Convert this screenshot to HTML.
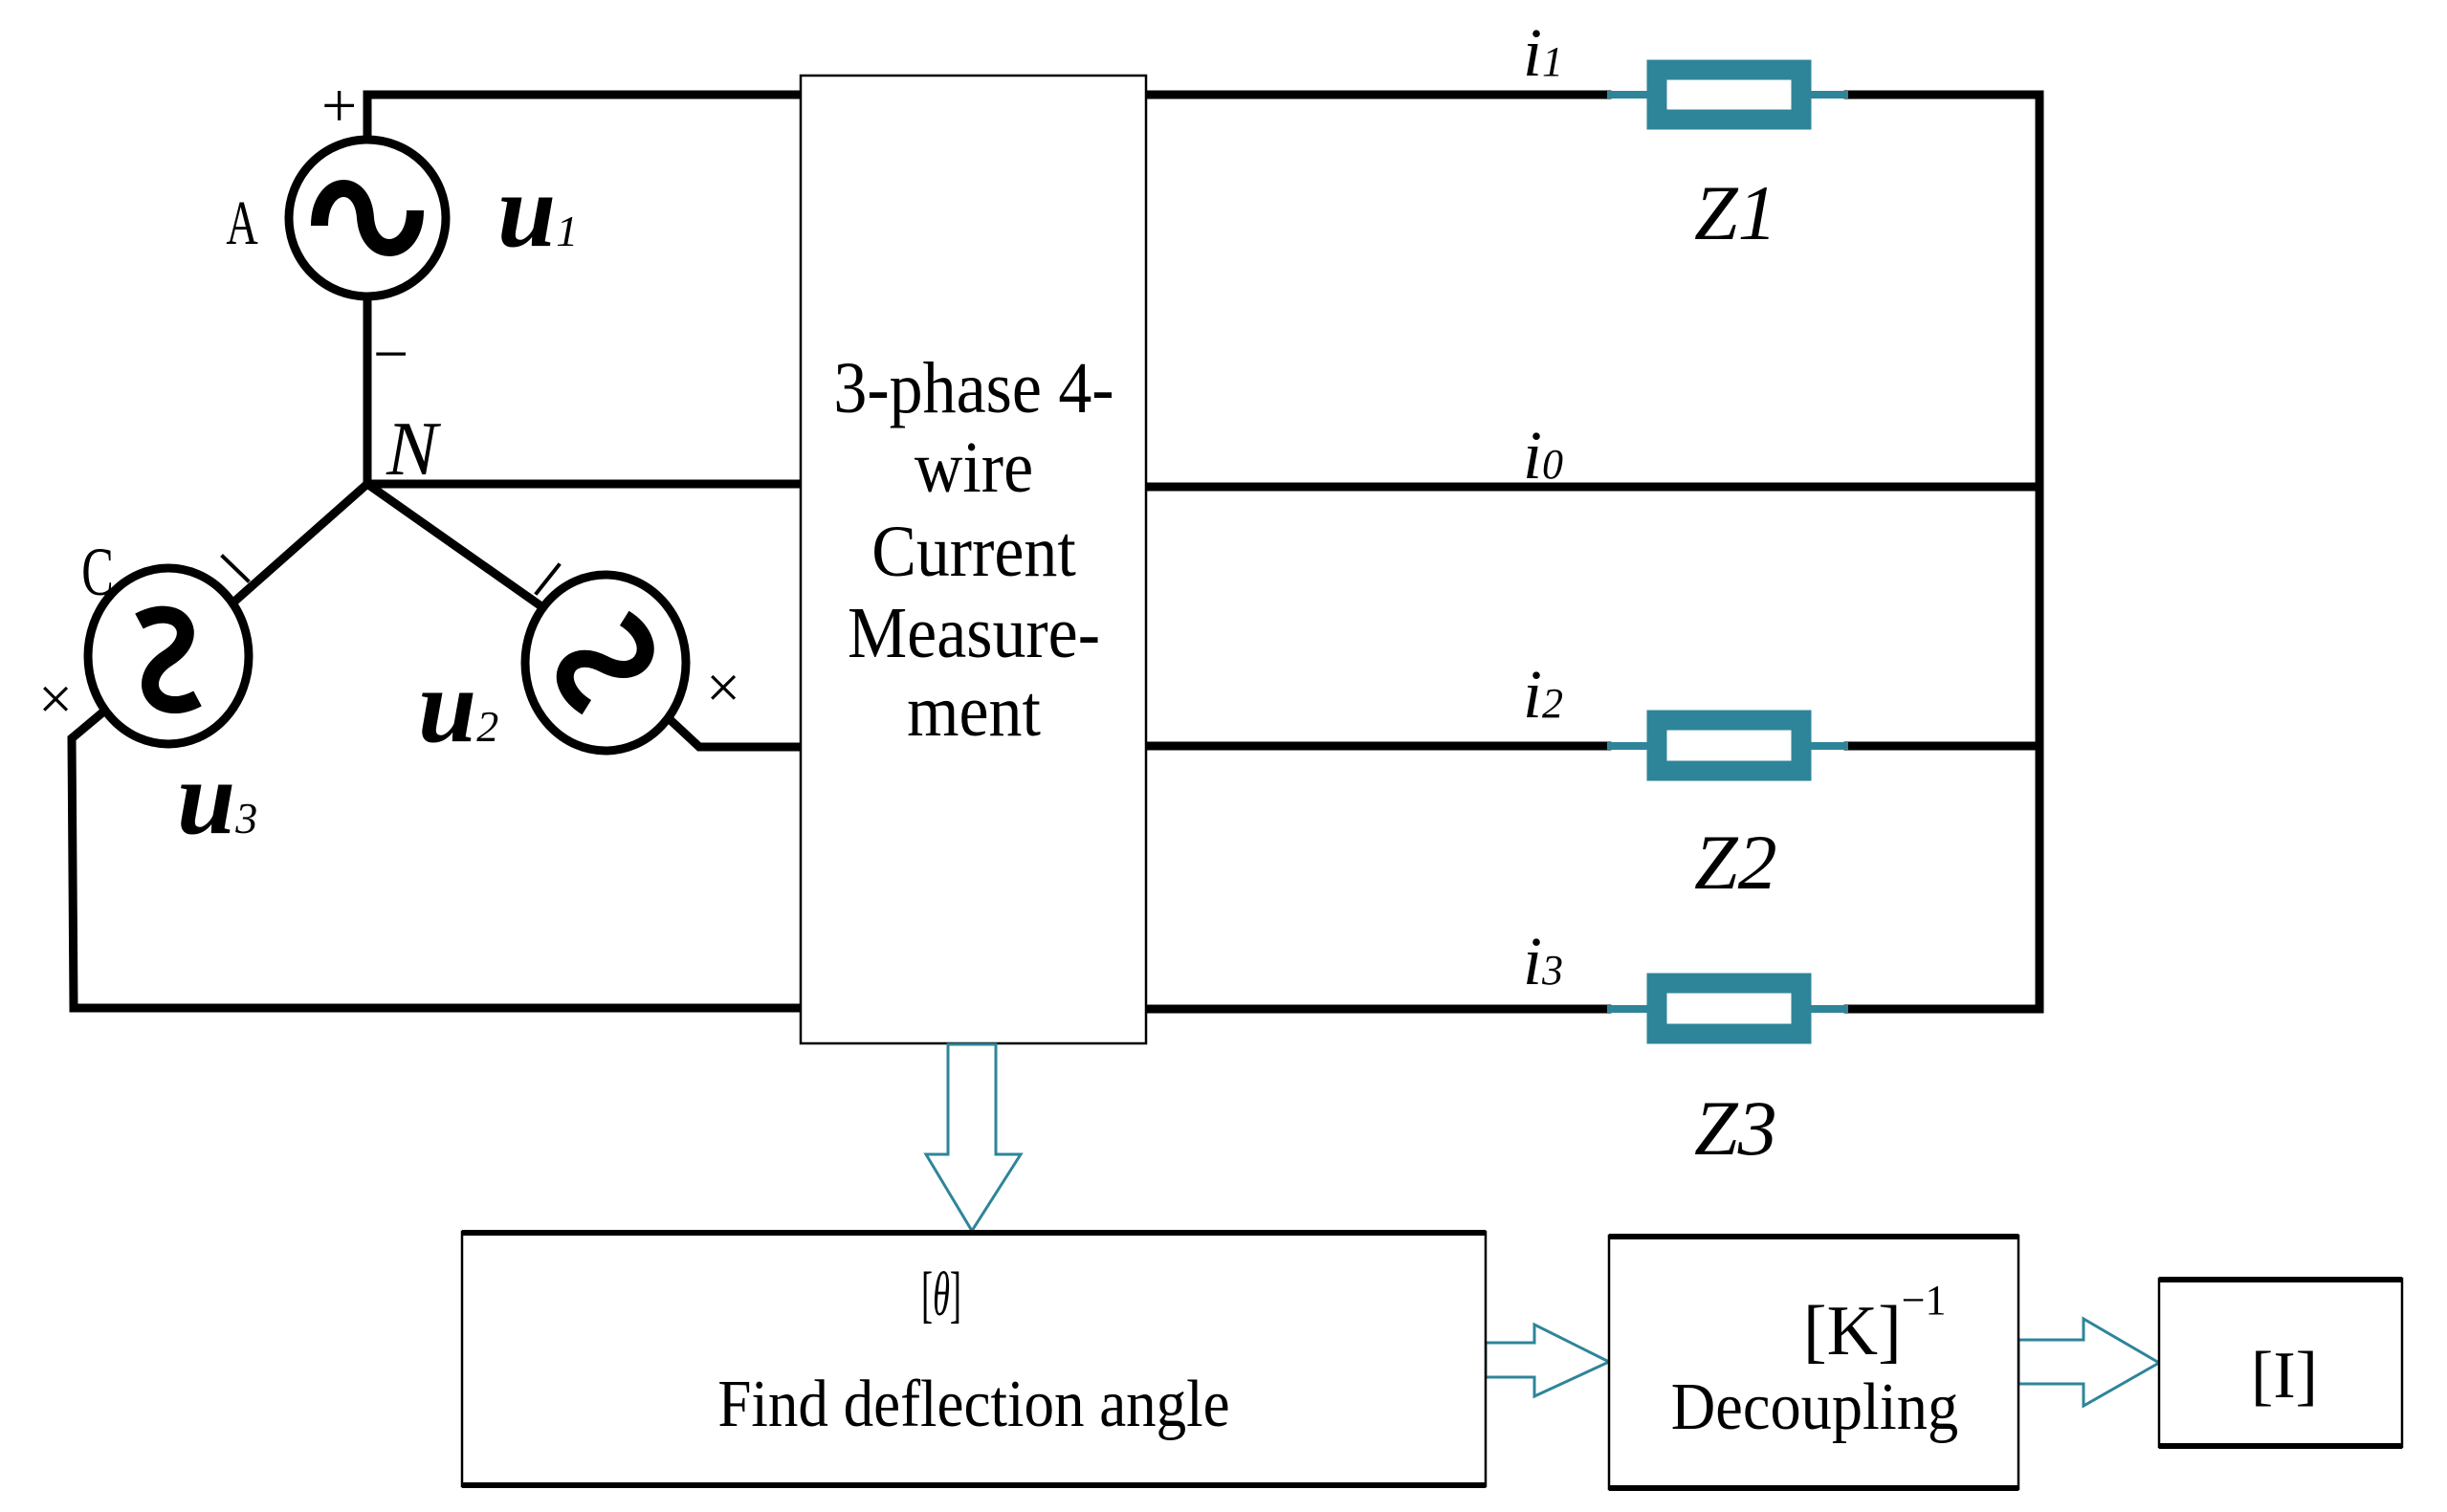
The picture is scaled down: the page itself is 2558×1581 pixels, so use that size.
<!DOCTYPE html>
<html><head><meta charset="utf-8"><style>
html,body{margin:0;padding:0;background:#fff;}
svg{display:block}
text{font-family:"Liberation Serif",serif;fill:#000}
</style></head><body>
<svg width="2558" height="1581" viewBox="0 0 2558 1581" xmlns="http://www.w3.org/2000/svg">
<g stroke="#000" stroke-width="9" fill="none" stroke-linecap="square">
<polyline points="384,142 384,99 837,99"/>
<line x1="384" y1="314" x2="384" y2="506"/>
<line x1="384" y1="506" x2="837" y2="506"/>
<line x1="384" y1="506" x2="245" y2="629"/>
<line x1="384" y1="506" x2="563" y2="632"/>
<polyline points="702,754 731,781 837,781"/>
<polyline points="106,746 75,772 77,1054 837,1054"/>
<line x1="1198" y1="99" x2="1680" y2="99"/>
<line x1="1198" y1="509" x2="2132" y2="509"/>
<line x1="1198" y1="780" x2="1680" y2="780"/>
<line x1="1198" y1="1055" x2="1680" y2="1055"/>
<line x1="1932" y1="99" x2="2132" y2="99"/>
<line x1="1932" y1="780" x2="2132" y2="780"/>
<line x1="1932" y1="1055" x2="2132" y2="1055"/>
<line x1="2132" y1="99" x2="2132" y2="1055"/>
<circle cx="384" cy="228" r="82"/>
<ellipse cx="176" cy="686" rx="84" ry="92"/>
<ellipse cx="633" cy="693" rx="84" ry="92"/>
<line x1="233" y1="582" x2="259" y2="607" stroke-width="4"/>
<line x1="584" y1="591" x2="561" y2="620" stroke-width="4"/>
</g>
<g stroke="#000" stroke-width="18" fill="none">
<path d="M-50,8 C-50,-40 -5,-45 -2,0 C2,45 50,40 50,-8" transform="translate(384,228)"/>
<path d="M-50,8 C-50,-40 -5,-45 -2,0 C2,45 50,40 50,-8" transform="translate(176,690) rotate(62)"/>
<path d="M-50,8 C-50,-40 -5,-45 -2,0 C2,45 50,40 50,-8" transform="translate(633,693) rotate(-58)"/>
</g>
<g fill="none" stroke="#2e8599">
<g stroke-width="8"><line x1="1680" y1="99" x2="1932" y2="99"/><line x1="1680" y1="780" x2="1932" y2="780"/><line x1="1680" y1="1055" x2="1932" y2="1055"/></g>
<g stroke-width="21" fill="#fff">
<rect x="1732" y="73" width="151" height="52"/>
<rect x="1732" y="753" width="151" height="53"/>
<rect x="1732" y="1028" width="151" height="53"/>
</g>
</g>
<rect x="837" y="79" width="361" height="1012" fill="#fff" stroke="#000" stroke-width="2.5"/>
<g text-anchor="middle" font-size="76" transform="translate(1018,0) scale(0.92,1)">
<text x="0" y="431">3-phase 4-</text>
<text x="0" y="514">wire</text>
<text x="0" y="602">Current</text>
<text x="0" y="687">Measure-</text>
<text x="0" y="769">ment</text>
</g>
<g fill="#fff" stroke="#2e8599" stroke-width="3">
<polygon points="991,1092 1041,1092 1041,1207 1067,1207 1016,1287 968,1207 991,1207"/>
<polygon points="1553,1404 1604,1404 1604,1385 1682,1424 1604,1460 1604,1440 1553,1440"/>
<polygon points="2110,1401 2178,1401 2178,1379 2257,1425 2178,1470 2178,1447 2110,1447"/>
</g>
<g fill="#fff" stroke="#000" stroke-width="2.5">
<rect x="483" y="1288" width="1070" height="266"/>
<rect x="1682" y="1292" width="428" height="265"/>
<rect x="2257" y="1337" width="254" height="176"/>
</g>
<g stroke="#000" stroke-width="6">
<line x1="483" y1="1289" x2="1553" y2="1289"/><line x1="483" y1="1553" x2="1553" y2="1553"/>
<line x1="1682" y1="1293" x2="2110" y2="1293"/><line x1="1682" y1="1556" x2="2110" y2="1556"/>
<line x1="2257" y1="1338" x2="2511" y2="1338"/><line x1="2257" y1="1512" x2="2511" y2="1512"/>
</g>
<text x="336" y="132" font-size="66">+</text>
<text x="390" y="392" font-size="66">−</text>
<text x="253" y="255" font-size="66" text-anchor="middle" transform="translate(253,0) scale(0.7,1) translate(-253,0)">A</text>
<text x="102" y="622" font-size="72" text-anchor="middle" transform="translate(102,0) scale(0.7,1) translate(-102,0)">C</text>
<text x="40" y="752" font-size="64">×</text>
<text x="738" y="740" font-size="64">×</text>
<text x="404" y="496" font-size="80" font-style="italic">N</text>
<text x="520" y="257" font-size="110" font-style="italic" font-weight="bold">u<tspan font-size="46" font-weight="normal">1</tspan></text>
<text x="437" y="775" font-size="110" font-style="italic" font-weight="bold">u<tspan font-size="46" font-weight="normal">2</tspan></text>
<text x="185" y="871" font-size="110" font-style="italic" font-weight="bold">u<tspan font-size="46" font-weight="normal">3</tspan></text>
<g font-style="italic" font-size="72">
<text x="1592" y="79">i<tspan font-size="44">1</tspan></text>
<text x="1592" y="500">i<tspan font-size="44">0</tspan></text>
<text x="1592" y="750">i<tspan font-size="44">2</tspan></text>
<text x="1592" y="1029">i<tspan font-size="44">3</tspan></text>
</g>
<g font-style="italic" font-size="82">
<text x="1771" y="250">Z1</text>
<text x="1771" y="929">Z2</text>
<text x="1771" y="1207">Z3</text>
</g>
<text x="984" y="1375" font-size="66" text-anchor="middle" transform="translate(984,0) scale(0.55,1) translate(-984,0)">[<tspan font-style="italic">θ</tspan>]</text>
<text x="1018" y="1491" font-size="70" text-anchor="middle" transform="translate(1018,0) scale(0.9,1) translate(-1018,0)">Find deflection angle</text>
<text x="1885" y="1416" font-size="74">[K]<tspan font-size="44" dy="-42">−1</tspan></text>
<text x="1897" y="1494" font-size="70" text-anchor="middle" transform="translate(1897,0) scale(0.92,1) translate(-1897,0)">Decoupling</text>
<text x="2388" y="1461" font-size="70" text-anchor="middle">[I]</text>
</svg>
</body></html>
